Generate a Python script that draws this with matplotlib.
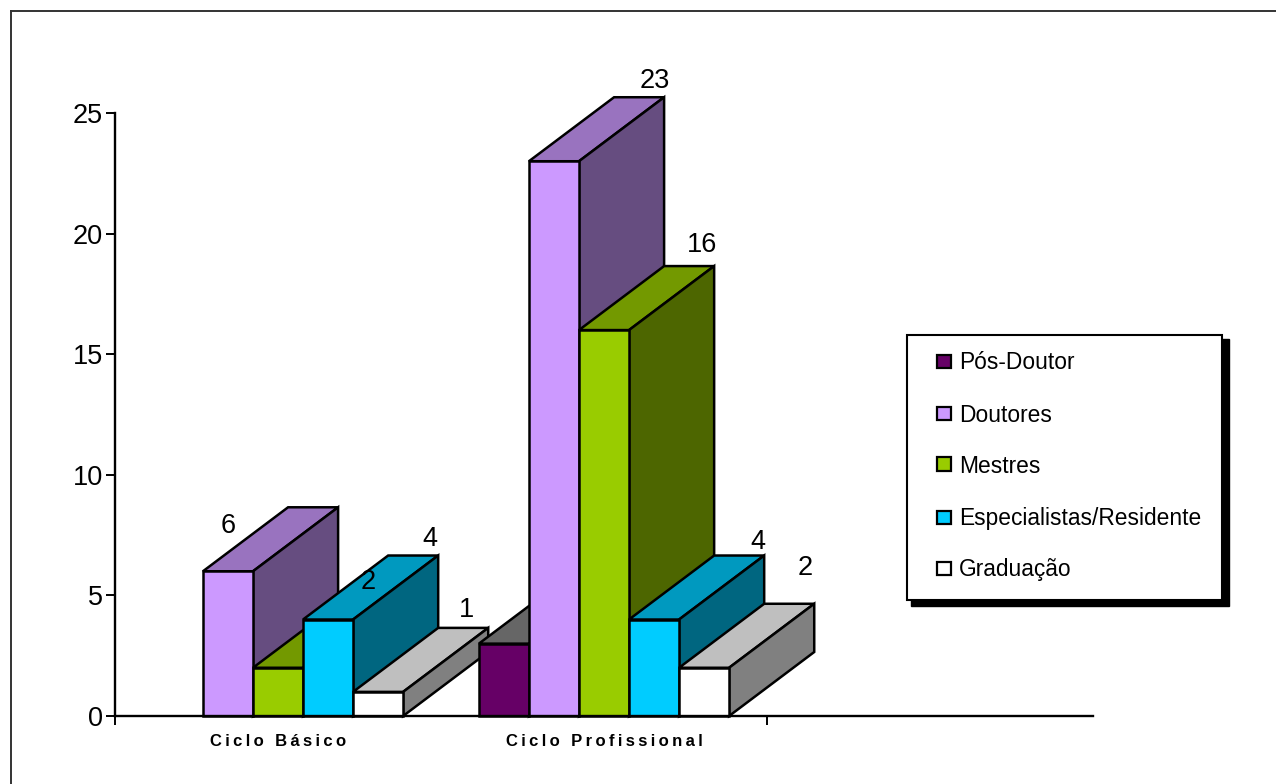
import matplotlib
matplotlib.use('Agg')
import matplotlib.pyplot as plt
from matplotlib.patches import Polygon, Rectangle
from matplotlib.colors import to_rgb

plt.rcParams['font.family'] = ['Liberation Sans', 'DejaVu Sans']

categories = ['Ciclo Básico', 'Ciclo Profissional']
series_names = ['Pós-Doutor', 'Doutores', 'Mestres', 'Especialistas/Residente', 'Graduação']
pos_doutor = [0, 3]
doutores = [6, 23]
mestres = [2, 16]
especialistas = [4, 4]
graduacao = [1, 2]
series_values = [pos_doutor, doutores, mestres, especialistas, graduacao]
y_ticks = [0, 5, 10, 15, 20, 25]

colors = ['#660066', '#CC99FF', '#99CC00', '#00CCFF', '#FFFFFF']

W, H = 1276, 784
fig = plt.figure(figsize=(W / 100, H / 100), dpi=100)

# axes box in pixels: x 115..1093, y 716 (zero) .. 113 (25)
ax = fig.add_axes([115 / W, 1 - 716 / H, (1093 - 115) / W, (716 - 113) / H])
ax.set_xlim(0, 3)
ax.set_ylim(0, 25)
for s in ['top', 'right']:
    ax.spines[s].set_visible(False)
for s in ['left', 'bottom']:
    ax.spines[s].set_linewidth(1.7)
    ax.spines[s].set_zorder(50)

ax.set_yticks(y_ticks)
ax.tick_params(axis='y', labelsize=19.5, length=6.5, width=1.4, pad=2)
ax.set_xticks([0, 2])
ax.set_xticklabels(['', ''])
ax.tick_params(axis='x', length=6.5, width=1.4)
ax.set_xticks([0.5, 1.5], minor=True)
# original has wide letter spacing
ax.set_xticklabels(['\u2009'.join(c) for c in categories], minor=True,
                   fontsize=12, fontweight='bold')
ax.tick_params(axis='x', which='minor', length=0, pad=13)

bar_w = 0.1535
depth_x = 85 / 325.5
depth_y = 64 / 24.12
edge = 1.8


def shade(c, f):
    return tuple(v * f for v in to_rgb(c))


# bars go left to right so nearer faces cover the earlier ones
z = 2
for g in range(len(categories)):
    for i, vals in enumerate(series_values):
        v = vals[g]
        if v == 0:
            continue
        x0 = g + 0.5 + (i - 2.5) * bar_w
        x1 = x0 + bar_w
        c = colors[i]
        top_c = '#666666' if i == 0 else shade(c, 0.75)
        side_c = shade(c, 0.5)
        top = Polygon([(x0, v), (x1, v), (x1 + depth_x, v + depth_y), (x0 + depth_x, v + depth_y)],
                      fc=top_c, ec='black', lw=edge, clip_on=False, zorder=z)
        side = Polygon([(x1, 0), (x1 + depth_x, depth_y), (x1 + depth_x, v + depth_y), (x1, v)],
                       fc=side_c, ec='black', lw=edge, clip_on=False, zorder=z)
        front = Rectangle((x0, 0), bar_w, v, fc=c, ec='black', lw=edge, clip_on=False, zorder=z + 1)
        ax.add_patch(top)
        ax.add_patch(side)
        ax.add_patch(front)
        z += 2

# value labels sit where the original put them, offset from each bar (pixels)
label_offsets = {
    (0, 1): (0, 45), (0, 2): (90, 86), (0, 3): (102, 81), (0, 4): (88, 82),
    (1, 1): (101, 80), (1, 2): (98, 85), (1, 3): (104, 78), (1, 4): (101, 100),
}
for (g, i), (ox, oy) in label_offsets.items():
    v = series_values[i][g]
    xc = g + 0.5 + (i - 2) * bar_w
    ax.annotate(str(v), (xc, v), xytext=(ox * 0.72, oy * 0.72), textcoords='offset points',
                ha='center', va='center', fontsize=19.5, zorder=100, annotation_clip=False)

# outer chart frame, only top and left come through in the original
fig.add_artist(plt.Line2D([10.5 / W, 10.5 / W], [1 - 10 / H, 0], color='#333333', lw=1.4,
                          solid_capstyle='butt'))
fig.add_artist(plt.Line2D([10 / W, 1], [1 - 10.5 / H, 1 - 10.5 / H], color='#333333', lw=1.4,
                          solid_capstyle='butt'))

# legend box with hard drop shadow
fig.add_artist(Rectangle((911 / W, 1 - 606 / H), 318 / W, 267 / H, transform=fig.transFigure,
                         fc='black', ec='black', zorder=60))
fig.add_artist(Rectangle((907 / W, 1 - 600 / H), 315 / W, 265 / H, transform=fig.transFigure,
                         fc='white', ec='black', lw=1.5, zorder=61))
legend_base = [369, 422, 473, 525, 576]
swatch_mid = [361, 413, 464, 517, 568]
for name, c, by, my in zip(series_names, colors, legend_base, swatch_mid):
    fig.add_artist(Rectangle((937 / W, 1 - (my + 7) / H), 13.5 / W, 13.5 / H, transform=fig.transFigure,
                             fc=c, ec='black', lw=1.6, zorder=62))
    fig.text(959 / W, 1 - by / H, name, fontsize=16.4, va='baseline', ha='left', zorder=62)

fig.savefig('out.png', dpi=100)
